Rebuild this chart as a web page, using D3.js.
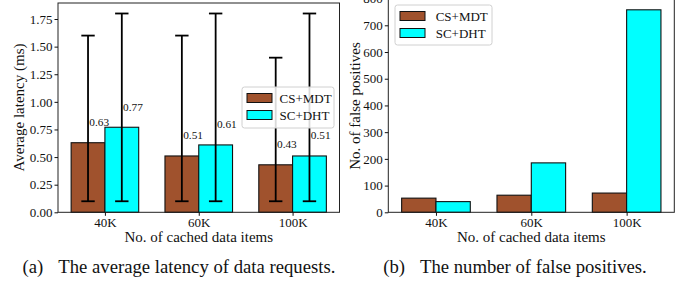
<!DOCTYPE html>
<html><head><meta charset="utf-8">
<script src="https://cdn.jsdelivr.net/npm/d3@7"></script>
<style>body{margin:0;background:#fff}svg{display:block}text{font-family:"Liberation Serif","Times New Roman",serif;fill:#111}</style>
</head><body>
<svg id="c" width="691" height="284"></svg>
<script>
const categories = ["40K", "60K", "100K"];
const seriesNames = ["CS+MDT", "SC+DHT"];
const seriesColors = ["#A0522D", "#00FFFF"];
const latencyCS = [0.63, 0.51, 0.43];
const latencySC = [0.77, 0.61, 0.51];
const latencyLowCS = [0.10, 0.10, 0.10];
const latencyHighCS = [1.60, 1.60, 1.40];
const latencyLowSC = [0.10, 0.10, 0.10];
const latencyHighSC = [1.80, 1.80, 1.80];
const falsePosCS = [53, 64, 72];
const falsePosSC = [40, 185, 758];
const latencyTicks = [0, 0.25, 0.5, 0.75, 1.0, 1.25, 1.5, 1.75];
const fpTicks = [0, 100, 200, 300, 400, 500, 600, 700, 800];

const svg = d3.select("#c");
const BW = 0.36;

function panel(opt) {
  const g = svg.append("g");
  const x = d3.scaleLinear().domain([-0.5, 2.5]).range([opt.x0, opt.x1]);
  const y = d3.scaleLinear().domain([0, opt.ymax]).range([opt.y0, opt.y1]);
  const px = w => x(w) - x(0);
  opt.series.forEach((vals, s) => {
    g.selectAll(null).data(vals).enter().append("rect")
      .attr("x", (d, i) => x(i + (s === 0 ? -BW : 0)))
      .attr("y", d => y(d))
      .attr("width", px(BW))
      .attr("height", d => y(0) - y(d))
      .attr("fill", seriesColors[s])
      .attr("stroke", "#111").attr("stroke-width", 1.1);
  });
  if (opt.err) {
    opt.err.forEach((e, s) => {
      e.lo.forEach((lo, i) => {
        const cx = x(i + (s === 0 ? -BW / 2 : BW / 2));
        const hi = e.hi[i];
        g.append("line").attr("x1", cx).attr("x2", cx).attr("y1", y(lo)).attr("y2", y(hi))
          .attr("stroke", "#000").attr("stroke-width", 1.8);
        [lo, hi].forEach(v => g.append("line").attr("x1", cx - 6.7).attr("x2", cx + 6.7)
          .attr("y1", y(v)).attr("y2", y(v)).attr("stroke", "#000").attr("stroke-width", 1.8));
      });
    });
  }
  if (opt.labels) {
    opt.series.forEach((vals, s) => {
      vals.forEach((v, i) => {
        const cx = x(i + (s === 0 ? -BW / 2 : BW / 2));
        g.append("text").attr("x", cx + 1.3).attr("y", y(v + 0.15))
          .attr("font-size", 11.3).text(v.toFixed(2));
      });
    });
  }
  g.append("rect").attr("x", opt.x0).attr("y", y(opt.ymax)).attr("width", opt.x1 - opt.x0)
    .attr("height", y(0) - y(opt.ymax)).attr("fill", "none").attr("stroke", "#222").attr("stroke-width", 1);
  const ya = d3.axisLeft(y).tickValues(opt.yticks).tickFormat(opt.yfmt).tickSize(3.5).tickPadding(2);
  const yg = g.append("g").attr("transform", `translate(${opt.x0},0)`).call(ya);
  yg.attr("font-family", null).attr("font-size", null);
  yg.select(".domain").remove();
  yg.selectAll("text").attr("font-size", 13);
  yg.selectAll("line").attr("stroke", "#111");
  const xa = d3.axisBottom(x).tickValues([0, 1, 2]).tickFormat(i => categories[i]).tickSize(3.5).tickPadding(1.5);
  const xg = g.append("g").attr("transform", `translate(0,${y(0)})`).call(xa);
  xg.attr("font-family", null).attr("font-size", null);
  xg.select(".domain").remove();
  xg.selectAll("text").attr("font-size", 13);
  xg.selectAll("line").attr("stroke", "#111");
  const xc = (opt.x0 + opt.x1) / 2;
  g.append("text").attr("x", xc).attr("y", 241.5).attr("text-anchor", "middle").attr("font-size", 15).text("No. of cached data items");
  g.append("text").attr("transform", `translate(${opt.ylabX},${opt.ylabY}) rotate(-90)`)
    .attr("text-anchor", "middle").attr("font-size", 15).text(opt.ylabel);
  const L = opt.leg;
  g.append("rect").attr("x", L.x).attr("y", L.y).attr("width", L.w).attr("height", L.h).attr("rx", 2.5)
    .attr("fill", "#fff").attr("fill-opacity", 0.85).attr("stroke", "#d0d0d0");
  seriesNames.forEach((n, s) => {
    g.append("rect").attr("x", L.x + 5).attr("y", L.y + 6.5 + s * 17).attr("width", 25).attr("height", 9)
      .attr("fill", seriesColors[s]).attr("stroke", "#111").attr("stroke-width", 1);
    g.append("text").attr("x", L.x + L.tx).attr("y", L.y + 15.8 + s * 17).attr("font-size", 13).text(n);
  });
  g.append("text").attr("x", opt.capX - 15).attr("y", 273.3).attr("text-anchor", "end").attr("font-size", 18.7).text(opt.capTag);
  g.append("text").attr("x", opt.capX).attr("y", 273.3).attr("font-size", 18.7).text(opt.caption);
}

panel({
  x0: 58, x1: 339.5, y0: 212.3, y1: 3, ymax: 1.895,
  series: [latencyCS, latencySC],
  err: [{lo: latencyLowCS, hi: latencyHighCS}, {lo: latencyLowSC, hi: latencyHighSC}],
  labels: true,
  yticks: latencyTicks, yfmt: d3.format(".2f"),
  ylabel: "Average latency (ms)", ylabX: 24, ylabY: 107.5,
  leg: {x: 242, y: 87, w: 92, h: 41, tx: 37.5},
  capX: 58.3, capTag: "(a)", caption: "The average latency of data requests."
});
panel({
  x0: 388.3, x1: 674.3, y0: 212.3, y1: 212.3 - 820 * 0.26714, ymax: 820,
  series: [falsePosCS, falsePosSC],
  labels: false,
  yticks: fpTicks, yfmt: d3.format("d"),
  ylabel: "No. of false positives", ylabX: 360, ylabY: 106,
  leg: {x: 395, y: 5, w: 97, h: 40, tx: 40.7},
  capX: 420, capTag: "(b)", caption: "The number of false positives."
});
</script>
</body></html>
